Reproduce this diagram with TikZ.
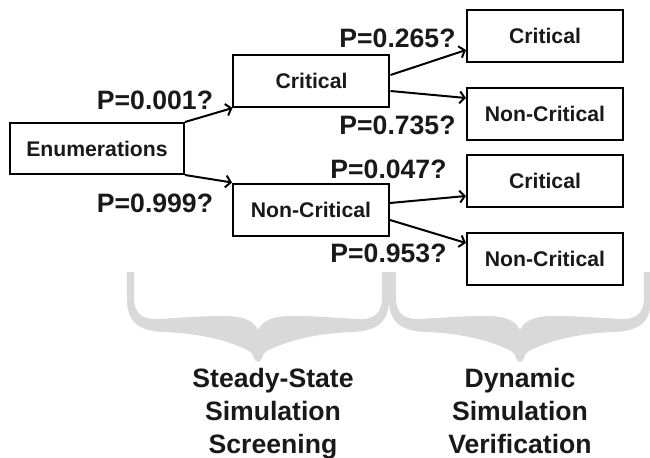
\documentclass[tikz,border=0pt]{standalone}
\usepackage{fontspec}
\setmainfont{Liberation Sans}
\usetikzlibrary{arrows.meta,calc}

\begin{document}
\begin{tikzpicture}
  [x=0.5pt,y=0.5pt,
  % Styles
  box/.style={draw,line width=1pt,minimum width=78pt,minimum height=26pt,
    inner sep=0pt,font=\fontsize{10.6}{12}\selectfont\bfseries,text=textcolor},
  prob/.style={font=\fontsize{13.3}{16}\selectfont\bfseries,text=textcolor,inner sep=0pt},
  stage/.style={align=center,font=\fontsize{13.3}{16.5}\selectfont\bfseries,
    text=textcolor,inner sep=0pt},
  link/.style={-{Straight Barb[length=2.5pt,width=6pt]},line width=1pt}]
  % Colors
  \colorlet{textcolor}{black!90}
  \colorlet{bracecolor}{black!15}
  \useasboundingbox (0,0) rectangle (650,457);
  % Braces
  \foreach \tipx in {258,520}
    \fill[bracecolor,shift={(\tipx,97)}]
      (-131,88) -- (-131,60)
      .. controls (-131,35) and (-115,29) .. (-95,28)
      .. controls (-65,27) and (-40,22) .. (-20,14)
      .. controls (-10,10) and (-5,8) .. (-4,2)
      .. controls (-3,-3) and (3,-3) .. (4,2)
      .. controls (5,8) and (10,10) .. (20,14)
      .. controls (40,22) and (65,27) .. (95,28)
      .. controls (115,29) and (131,35) .. (131,60)
      -- (131,88) -- (124,88) -- (124,62)
      .. controls (124,48) and (117,40) .. (100,41)
      .. controls (80,42) and (60,44) .. (35,44)
      .. controls (15,44) and (5,40) .. (0,30)
      .. controls (-5,40) and (-15,44) .. (-35,44)
      .. controls (-60,44) and (-80,42) .. (-100,41)
      .. controls (-117,40) and (-124,48) .. (-124,62)
      -- (-124,88) -- cycle;
  % Boxes
  \node[box,minimum width=87pt,minimum height=25.5pt] (enum) at (97,308.5) {Enumerations};
  \node[box] (crit) at (311.5,376) {Critical};
  \node[box] (noncrit) at (311,247.5) {Non-Critical};
  \node[box] (critcrit) at (545,421) {Critical};
  \node[box] (critnon) at (545,343) {Non-Critical};
  \node[box] (noncritcrit) at (545,276) {Critical};
  \node[box] (noncritnon) at (545,198) {Non-Critical};
  % Links
  \draw[link] (enum.north east) -- (crit.south west);
  \draw[link] (enum.south east) -- (noncrit.north west);
  \draw[link] ([yshift=3pt]crit.east) -- ([yshift=-7pt]critcrit.west);
  \draw[link] ([yshift=-5pt]crit.east) -- ([yshift=8pt]critnon.west);
  \draw[link] ([yshift=3.25pt]noncrit.east) -- ([yshift=-7.5pt]noncritcrit.west);
  \draw[link] ([yshift=-5.25pt]noncrit.east) -- ([yshift=8pt]noncritnon.west);
  % Probabilities
  \node[prob] (pcrit) at (155,357) {P=0.001?};
  \node[prob] (pnoncrit) at (155,254) {P=0.999?};
  \node[prob] (pcritcrit) at (397.5,419) {P=0.265?};
  \node[prob] (pcritnon) at (397.5,332) {P=0.735?};
  \node[prob] (pnoncritcrit) at (388.5,288) {P=0.047?};
  \node[prob] (pnoncritnon) at (388.5,204) {P=0.953?};
  % Stages
  \node[stage] (steady) at (273,43) {Steady-State\\Simulation\\Screening};
  \node[stage] (dynamic) at (520,46) {Dynamic\\Simulation\\Verification};
\end{tikzpicture}
\end{document}
